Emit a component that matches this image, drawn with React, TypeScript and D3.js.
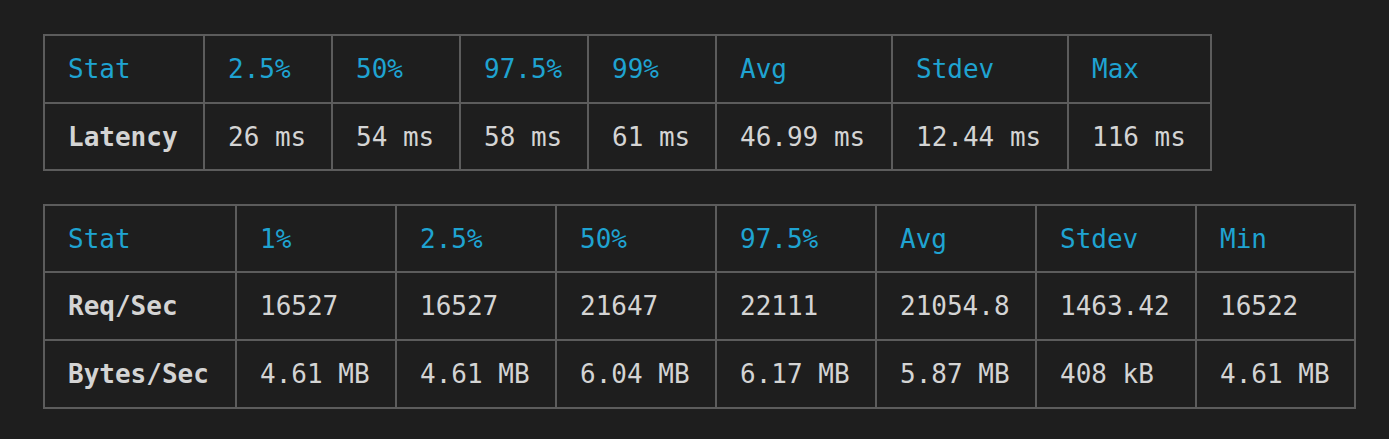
import React from "react";
import * as d3 from "d3";

const t1Headers = ["Stat", "2.5%", "50%", "97.5%", "99%", "Avg", "Stdev", "Max"];
const t1Rows = [["Latency", "26 ms", "54 ms", "58 ms", "61 ms", "46.99 ms", "12.44 ms", "116 ms"]];
const t1Cols = [44, 204, 332, 460, 588, 716, 892, 1068, 1211];
const t1RowY = [35, 103, 170];

const t2Headers = ["Stat", "1%", "2.5%", "50%", "97.5%", "Avg", "Stdev", "Min"];
const t2Rows = [
  ["Req/Sec", "16527", "16527", "21647", "22111", "21054.8", "1463.42", "16522"],
  ["Bytes/Sec", "4.61 MB", "4.61 MB", "6.04 MB", "6.17 MB", "5.87 MB", "408 kB", "4.61 MB"],
];
const t2Cols = [44, 236, 396, 556, 716, 876, 1036, 1196, 1355];
const t2RowY = [205, 272, 340, 408];

const border = "#5c5c5c";
const headCol = "#1fa3d1";
const textCol = "#d4d4d4";

function Table({ headers, rows, cols, rowY }: any) {
  const x = d3.scaleOrdinal<number, number>().domain(d3.range(cols.length)).range(cols);
  const all = [headers, ...rows];
  return (
    <g>
      {cols.map((c: number, i: number) => (
        <line key={"v" + i} x1={c} x2={c} y1={rowY[0]} y2={rowY[rowY.length - 1]} stroke={border} strokeWidth={2} />
      ))}
      {rowY.map((y: number, i: number) => (
        <line key={"h" + i} x1={cols[0] - 1} x2={cols[cols.length - 1] + 1} y1={y} y2={y} stroke={border} strokeWidth={2} />
      ))}
      {all.map((r: string[], ri: number) =>
        r.map((s, ci) => (
          <text
            key={ri + "-" + ci}
            x={x(ci)! + 24}
            y={(rowY[ri] + rowY[ri + 1]) / 2}
            dy="0.36em"
            fill={ri === 0 ? headCol : textCol}
            fontWeight={ri > 0 && ci === 0 ? "bold" : "normal"}
            fontFamily="'DejaVu Sans Mono', monospace"
            fontSize={26}
          >
            {s}
          </text>
        ))
      )}
    </g>
  );
}

export default function App() {
  return (
    <svg width={1389} height={439} style={{ position: "absolute", left: 0, top: 0, display: "block", background: "#1e1e1e" }}>
      <rect width={1389} height={439} fill="#1e1e1e" />
      <Table headers={t1Headers} rows={t1Rows} cols={t1Cols} rowY={t1RowY} />
      <Table headers={t2Headers} rows={t2Rows} cols={t2Cols} rowY={t2RowY} />
    </svg>
  );
}
